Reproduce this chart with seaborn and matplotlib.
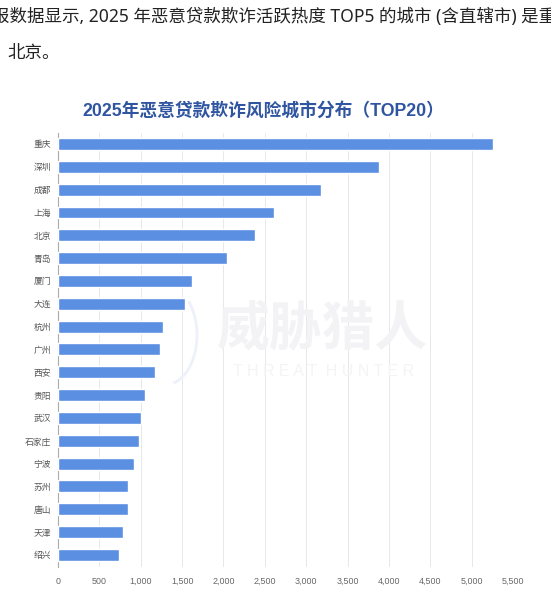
import matplotlib
matplotlib.use("Agg")
import matplotlib.pyplot as plt
from matplotlib.patches import Arc
from matplotlib.transforms import IdentityTransform
import seaborn as sns
import pandas as pd

cities = ["重庆", "深圳", "成都", "上海", "北京", "青岛", "厦门", "大连", "杭州", "广州",
          "西安", "贵阳", "武汉", "石家庄", "宁波", "苏州", "唐山", "天津", "绍兴"]
values = [5254, 3877, 3176, 2609, 2380, 2040, 1620, 1535, 1268, 1232,
          1172, 1050, 1002, 980, 918, 850, 850, 790, 737]
x_ticks = [0, 500, 1000, 1500, 2000, 2500, 3000, 3500, 4000, 4500, 5000, 5500]
title = "2025年恶意贷款欺诈风险城市分布（TOP20）"
line1 = "报数据显示, 2025 年恶意贷款欺诈活跃热度 TOP5 的城市 (含直辖市) 是重"
line2 = "北京。"

sns.set_theme(style="white")
plt.rcParams["font.family"] = ["Liberation Sans", "Noto Sans CJK SC", "DejaVu Sans"]

W, H = 551, 608
fig = plt.figure(figsize=(W / 100, H / 100), dpi=100, facecolor="white")
left, right, top, bottom = 58, 513, 133, 567
ax = fig.add_axes([left / W, 1 - bottom / H, (right - left) / W, (bottom - top) / H])

df = pd.DataFrame({"city": cities, "value": values})
sns.barplot(data=df, y="city", x="value", orient="h", color="#5A8FE2", saturation=1,
            width=0.52, ax=ax, zorder=3)

ax.set_xlim(0, 5500)
ax.set_ylim(18.53, -0.48)
ax.set_xlabel("")
ax.set_ylabel("")
ax.set_xticks(x_ticks)
ax.set_xticklabels([f"{v:,}" for v in x_ticks], fontsize=6.4, color="#666666")
ax.tick_params(axis="y", labelsize=6.3, labelcolor="#555555", length=0, pad=5)
ax.tick_params(axis="x", length=0, pad=7)
ax.grid(axis="x", color="#E8E8E8", linewidth=0.7, zorder=0)
ax.set_axisbelow(True)
for s in ["top", "right", "bottom"]:
    ax.spines[s].set_visible(False)
ax.spines["left"].set_color("#AAAAAA")
ax.spines["left"].set_linewidth(0.8)

body = ["Noto Sans", "Noto Sans CJK SC", "DejaVu Sans"]
fig.text(-8 / W, 1 - 17 / H, line1, fontsize=12.6, color="#222222", ha="left", va="center", family=body)
fig.text(7 / W, 1 - 53 / H, line2, fontsize=12.6, color="#222222", ha="left", va="center", family=body)
fig.text(263 / W, 1 - 111 / H, title, fontsize=12.8, color="#2F55A0", fontweight="bold",
         ha="center", va="center")

fig.add_artist(Arc((165, H - 335), 64, 100, theta1=-80, theta2=55, transform=IdentityTransform(),
                   color="#EEF1FA", linewidth=2))
fig.text(322 / W, 1 - 331 / H, "威胁猎人", fontsize=38, color="#F3F3F5", fontweight="bold",
         ha="center", va="center", zorder=1)
fig.text(324 / W, 1 - 371 / H, "T H R E A T  H U N T E R", fontsize=11.5, color="#F4F4F6",
         ha="center", va="center", zorder=1)

fig.savefig("out.png", dpi=100, facecolor="white")
